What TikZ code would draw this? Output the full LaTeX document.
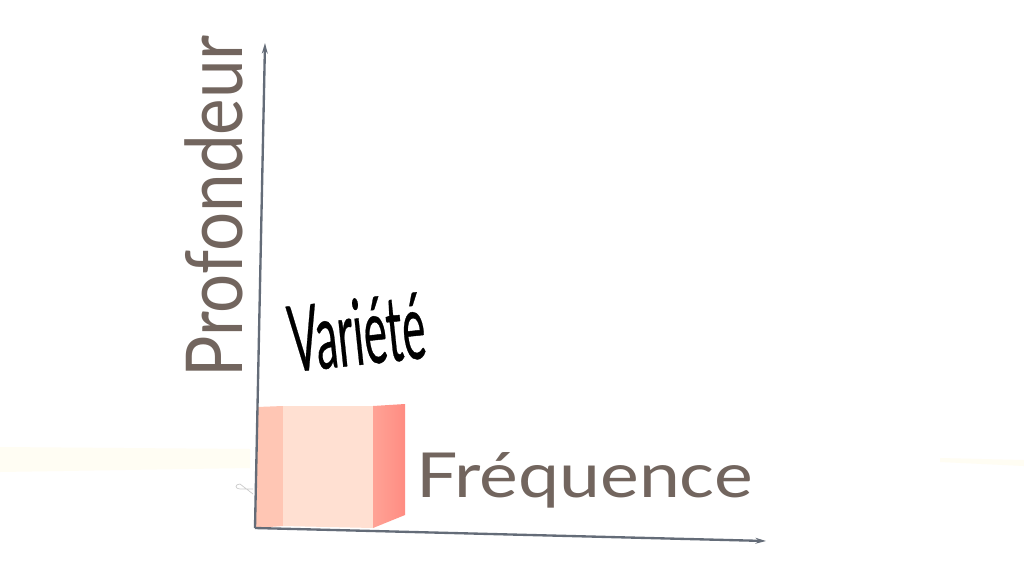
\documentclass[tikz,border=0pt]{standalone}
\usepackage{fontspec}
\setmainfont{Lato}
\usetikzlibrary{arrows.meta}
\definecolor{axisc}{HTML}{646C78}
\definecolor{labelc}{HTML}{72655E}
\definecolor{cubeleft}{HTML}{FFC6B4}
\definecolor{cubefront}{HTML}{FFE0D2}
\definecolor{cuberightA}{HTML}{FFA396}
\definecolor{cuberightB}{HTML}{FF8C82}
\definecolor{shadowc}{HTML}{FFFDF3}
\tikzset{
  axis/.style={draw=axisc, line width=2pt, -{Stealth[length=9pt,width=5pt]}},
  axislabel/.style={text=labelc, inner sep=0pt},
}
\begin{document}
\begin{tikzpicture}[x=0.03cm,y=-0.03cm]
\useasboundingbox[fill=white] (0,0) rectangle (1024,576);
% faint shadow bands
\fill[shadowc] (0,447) -- (250,449) -- (250,468) -- (0,472) -- cycle;
\fill[shadowc] (940,458) -- (1024,460) -- (1024,466) -- (940,462) -- cycle;
\draw[black!20, line width=0.6pt] (253,489) -- (240,489) arc[start angle=90, end angle=270, x radius=4, y radius=2.5] -- (253,494);
% cube
\fill[cubeleft] (257,407) -- (283,406) -- (283,526) -- (256,528) -- cycle;
\fill[cubefront] (283,406) -- (373,406) -- (373,528) -- (283,526) -- cycle;
\shade[left color=cuberightA, right color=cuberightB] (373,406) -- (405,404) -- (405,515) -- (373,528) -- cycle;
% axes
\coordinate (O) at (255,528);
\coordinate (Ytop) at (265,43);
\coordinate (Xend) at (766,541);
\draw[axis] (O) -- (Ytop);
\draw[axis] (O) -- (Xend);
% labels
\node[axislabel, anchor=base west, font=\fontsize{53}{54}\selectfont] (freq) at (416,497) {\scalebox{1.18}[1]{Fréquence}};
\node[axislabel, anchor=base west, rotate=90, font=\fontsize{67}{68}\selectfont] (prof) at (242,378) {\scalebox{0.88}[1]{Profondeur}};
\node[anchor=base west, inner sep=0pt, rotate=6, font=\addfontfeature{FakeBold=0.5}\fontsize{78}{78}\selectfont] (var) at (292,372) {\scalebox{0.48}[1]{Variété}};
\end{tikzpicture}
\end{document}
